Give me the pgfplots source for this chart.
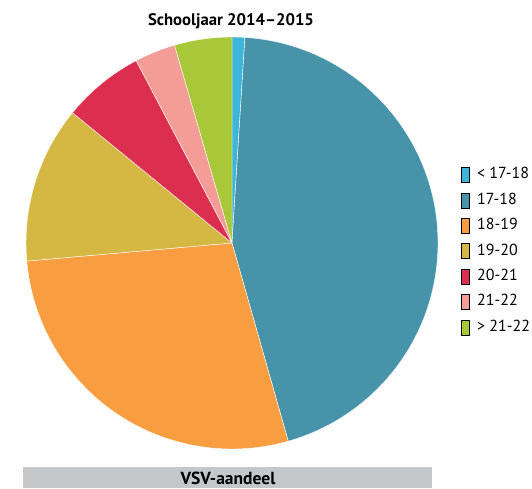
\documentclass[border=0pt]{standalone}
\usepackage{pgfplots}
\pgfplotsset{compat=1.18}
\usepackage{pgfplotstable}
\usepackage{fontspec}
\setmainfont{PT Sans}

\definecolor{c0}{HTML}{3DB6D9}
\definecolor{c1}{HTML}{4793AA}
\definecolor{c2}{HTML}{F89E40}
\definecolor{c3}{HTML}{D5B844}
\definecolor{c4}{HTML}{DC2E4F}
\definecolor{c5}{HTML}{F49C96}
\definecolor{c6}{HTML}{A8C83A}
\definecolor{band}{HTML}{C6C7C8}

% share of each age group, in percent
\pgfplotstableread{
label value
{< 17-18} 1.0
17-18 44.6
18-19 28.0
19-20 12.3
20-21 6.4
21-22 3.2
{> 21-22} 4.5
}\vsvdata

\begin{document}
\begin{tikzpicture}
% start and end angle of each wedge, clockwise from the top
\def\cum{0}
\pgfplotsforeachungrouped \i in {0,...,6}{%
  \pgfplotstablegetelem{\i}{value}\of\vsvdata
  \pgfmathsetmacro\a{90-3.6*\cum}%
  \pgfmathsetmacro\cumnew{\cum+\pgfplotsretval}%
  \pgfmathsetmacro\b{90-3.6*\cumnew}%
  \expandafter\xdef\csname sa\i\endcsname{\a}%
  \expandafter\xdef\csname ea\i\endcsname{\b}%
  \xdef\cum{\cumnew}%
}
\begin{axis}[
  x=1pt, y=1pt,
  xmin=0, xmax=532, ymin=0, ymax=488,
  hide axis, clip=false,
  legend image code/.code={\fill[#1] (0pt,-7.5pt) rectangle (7.7pt,7.5pt);},
  legend cell align=left,
  legend style={at={(axis cs:461,237)}, anchor=west, draw=none, fill=none,
    inner sep=0pt, outer sep=0pt, column sep=8pt, row sep=10pt,
    font=\fontsize{16}{19}\selectfont,
    nodes={inner sep=0pt, text height=11.5pt, text depth=3.5pt}},
]
\path (axis cs:0,0) rectangle (axis cs:532,488);
\pgfplotsinvokeforeach{0,...,6}{
  \fill[c#1, draw=white, line width=0.4pt, line join=round]
    (axis cs:232,245) -- ++(\csname sa#1\endcsname:206pt)
    arc[start angle=\csname sa#1\endcsname, end angle=\csname ea#1\endcsname, radius=206pt]
    -- cycle;
}
\addlegendimage{fill=c0}\addlegendentry{< 17-18}
\addlegendimage{fill=c1}\addlegendentry{17-18}
\addlegendimage{fill=c2}\addlegendentry{18-19}
\addlegendimage{fill=c3}\addlegendentry{19-20}
\addlegendimage{fill=c4}\addlegendentry{20-21}
\addlegendimage{fill=c5}\addlegendentry{21-22}
\addlegendimage{fill=c6}\addlegendentry{> 21-22}

\node[font=\fontsize{16.7}{19}\selectfont\bfseries, anchor=base]
  at (axis cs:231,462) {Schooljaar 2014–2015};
\fill[band] (axis cs:23,0) rectangle (axis cs:432,21);
\node[font=\fontsize{17.5}{20}\selectfont\bfseries, anchor=base]
  at (axis cs:228,4) {VSV-aandeel};
\end{axis}
\end{tikzpicture}
\end{document}
